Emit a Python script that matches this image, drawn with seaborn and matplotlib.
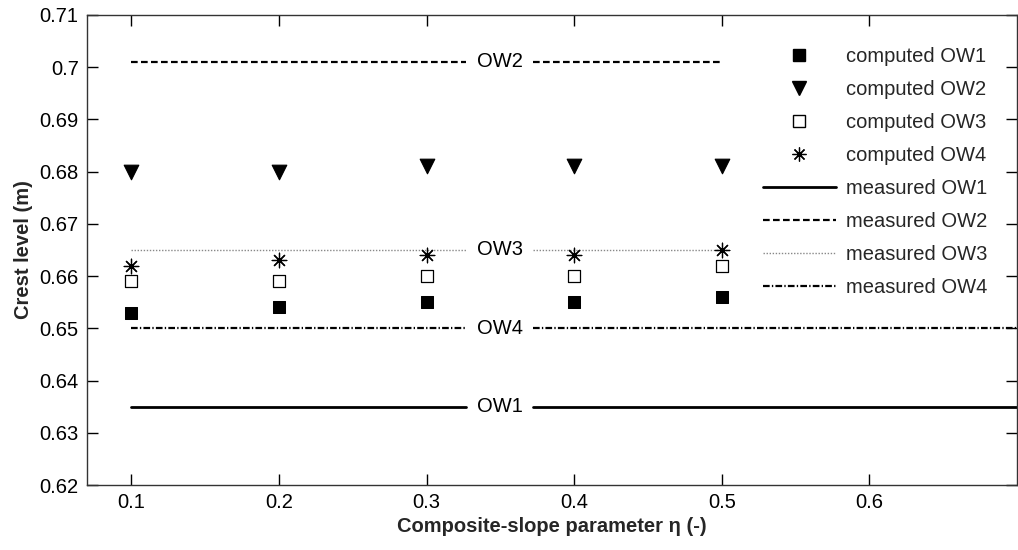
import matplotlib
matplotlib.use("Agg")
import matplotlib.pyplot as plt
import seaborn as sns
import pandas as pd
from matplotlib.lines import Line2D

sns.set_theme(style="ticks")
plt.rcParams['font.family'] = ['Liberation Sans', 'DejaVu Sans']

eta = [0.1, 0.2, 0.3, 0.4, 0.5]
computed_ow1 = [0.653, 0.654, 0.655, 0.655, 0.656]
computed_ow2 = [0.680, 0.680, 0.681, 0.681, 0.681]
computed_ow3 = [0.659, 0.659, 0.660, 0.660, 0.662]
computed_ow4 = [0.662, 0.663, 0.664, 0.664, 0.665]

measured_names = ["OW1", "OW2", "OW3", "OW4"]
measured_levels = [0.635, 0.701, 0.665, 0.650]
# each measured line: two segments around its label
seg_left = [(0.1, 0.327), (0.1, 0.327), (0.1, 0.327), (0.1, 0.327)]
seg_right = [(0.372, 0.70), (0.372, 0.50), (0.372, 0.505), (0.372, 0.70)]
label_x = 0.35

x_ticks = [0.1, 0.2, 0.3, 0.4, 0.5, 0.6]
y_ticks = [0.62, 0.63, 0.64, 0.65, 0.66, 0.67, 0.68, 0.69, 0.70, 0.71]
y_tick_labels = ["0.62", "0.63", "0.64", "0.65", "0.66", "0.67", "0.68", "0.69", "0.7", "0.71"]

FS = 14.5

fig = plt.figure(figsize=(10.18, 5.5), dpi=100)
ax = fig.add_axes([0.0855, 0.118, 0.9135, 0.855])

line_styles = {
    "OW1": dict(linestyle="-", linewidth=2.0, color="black"),
    "OW2": dict(linestyle=(0, (3, 1.5)), linewidth=1.6, color="black"),
    "OW3": dict(linestyle=(0, (1, 1.2)), linewidth=1.0, color="#888888"),
    "OW4": dict(linestyle=(0, (3, 1, 0.6, 1)), linewidth=1.6, color="black"),
}

for name, lvl, sl, sr in zip(measured_names, measured_levels, seg_left, seg_right):
    for seg in (sl, sr):
        df = pd.DataFrame({"x": list(seg), "y": [lvl, lvl]})
        sns.lineplot(data=df, x="x", y="y", ax=ax, legend=False, **line_styles[name])
    ax.text(label_x, lvl, name, ha="center", va="center", fontsize=FS, color="black")

marker_specs = [
    ("computed OW1", computed_ow1, dict(marker="s", s=85, color="black", edgecolor="black")),
    ("computed OW2", computed_ow2, dict(marker="v", s=110, color="black", edgecolor="black")),
    ("computed OW3", computed_ow3, dict(marker="s", s=80, facecolor="white", edgecolor="black", linewidth=0.9)),
    ("computed OW4", computed_ow4, dict(marker=(8, 2, 0), s=110, color="black", linewidth=0.9)),
]
for label, vals, kw in marker_specs:
    df = pd.DataFrame({"eta": eta, "crest": vals})
    sns.scatterplot(data=df, x="eta", y="crest", ax=ax, legend=False, zorder=3, **kw)

ax.set_xlim(0.07, 0.70)
ax.set_ylim(0.62, 0.71)
ax.set_xticks(x_ticks)
ax.set_xticklabels([str(t) for t in x_ticks])
ax.set_yticks(y_ticks)
ax.set_yticklabels(y_tick_labels)
ax.tick_params(direction="in", top=True, right=True, length=8, width=1, labelsize=FS, colors="black", pad=6)
for sp in ax.spines.values():
    sp.set_visible(True)
    sp.set_color("#333333")
    sp.set_linewidth(1.0)

ax.set_xlabel("Composite-slope parameter η (-)", fontsize=FS, fontweight="bold", labelpad=3)
ax.set_ylabel("Crest level (m)", fontsize=FS, fontweight="bold", labelpad=5)

handles = [
    Line2D([], [], linestyle="none", marker="s", markersize=9, color="black"),
    Line2D([], [], linestyle="none", marker="v", markersize=10.5, color="black"),
    Line2D([], [], linestyle="none", marker="s", markersize=9, markerfacecolor="white", markeredgecolor="black"),
    Line2D([], [], linestyle="none", marker=(8, 2, 0), markersize=10, color="black", markeredgewidth=0.9),
    Line2D([], [], **line_styles["OW1"]),
    Line2D([], [], **line_styles["OW2"]),
    Line2D([], [], **line_styles["OW3"]),
    Line2D([], [], **line_styles["OW4"]),
]
labels = ["computed OW1", "computed OW2", "computed OW3", "computed OW4",
          "measured OW1", "measured OW2", "measured OW3", "measured OW4"]
ax.legend(handles, labels, loc="upper right", bbox_to_anchor=(0.983, 0.962), frameon=False,
          fontsize=FS, handlelength=3.6, handletextpad=0.5, labelspacing=0.7, borderpad=0.2)

fig.savefig("out.png", dpi=100)
